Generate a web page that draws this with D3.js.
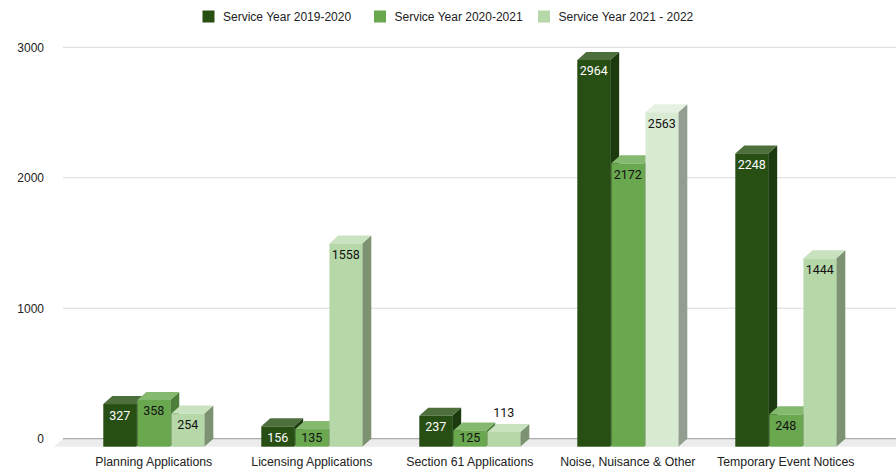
<!DOCTYPE html>
<html><head><meta charset="utf-8">
<script src="https://cdn.jsdelivr.net/npm/d3@7/dist/d3.min.js"></script>
<style>html,body{margin:0;padding:0;background:#fff;}svg{display:block;}</style>
</head><body><svg id="c" width="896" height="473"></svg>
<script>
const categories = ["Planning Applications","Licensing Applications","Section 61 Applications","Noise, Nuisance & Other","Temporary Event Notices"];
const seriesNames = ["Service Year 2019-2020","Service Year 2020-2021","Service Year 2021 - 2022"];
const values2019 = [327,156,237,2964,2248];
const values2020 = [358,135,125,2172,248];
const values2021 = [254,1558,113,2563,1444];
const yTicks = [0,1000,2000,3000];
const highlighted = {series: 2, category: "Noise, Nuisance & Other"};

const seriesValues = [values2019, values2020, values2021];
const palette = [
  {front:"#274e13", top:"#4c6f3c", side:"#1b3a0d", text:"#ffffff"},
  {front:"#6aa84f", top:"#86b970", side:"#4d7e39", text:"#111111"},
  {front:"#b6d7a8", top:"#c9e2bf", side:"#7c9270", text:"#111111"}
];
const paletteHi = {front:"#d9ead3", top:"#e6f1e2", side:"#949e90", text:"#111111"};

const svg = d3.select("#c");
const DX = 9, DY = 8;
const y = d3.scaleLinear().domain([0,3000]).range([446.7, 55.3]);
const x0 = d3.scaleBand().domain(categories).range([74.8, 864.8]);
const groupW = 101;
const x1 = d3.scaleBand().domain(d3.range(3)).range([0, groupW]).paddingInner(0.035);

// gridlines (back plane)
const grid = svg.append("g");
yTicks.forEach(t => {
  if (t === 0) return;
  grid.append("line").attr("x1",63).attr("x2",896).attr("y1",y(t)-DY).attr("y2",y(t)-DY)
    .attr("stroke","#d9d9d9").attr("stroke-width",1);
});
// floor
const y0b = y(0)-DY, y0f = y(0);
svg.append("path").attr("d",`M63,${y0b} L905,${y0b} L896,${y0f} L54,${y0f} Z`).attr("fill","#ececec");
svg.append("line").attr("x1",63).attr("x2",896).attr("y1",y0b).attr("y2",y0b).attr("stroke","#9a9a9a").attr("stroke-width",1);

// y labels
svg.append("g").selectAll("text").data(yTicks).join("text")
  .attr("x",44).attr("y",d=>y(d)-DY+4.5).attr("text-anchor","end")
  .attr("font-family","'Liberation Sans', Arial, sans-serif").attr("font-size",12).attr("fill","#222")
  .text(d=>d);

// bars
const bars = svg.append("g");
categories.forEach((cat, ci) => {
  const gx = x0(cat) + (x0.bandwidth()-groupW)/2;
  seriesValues.forEach((vals, si) => {
    const v = vals[ci];
    const c = (si===highlighted.series && cat===highlighted.category) ? paletteHi : palette[si];
    const xl = gx + x1(si), xr = xl + x1.bandwidth();
    const yt = y(v), yb = y(0);
    const g = bars.append("g");
    g.append("path").attr("d",`M${xr},${yt} L${xr+DX},${yt-DY} L${xr+DX},${yb-DY} L${xr},${yb} Z`).attr("fill",c.side);
    g.append("path").attr("d",`M${xl},${yt} L${xl+DX},${yt-DY} L${xr+DX},${yt-DY} L${xr},${yt} Z`).attr("fill",c.top);
    g.append("rect").attr("x",xl).attr("y",yt).attr("width",xr-xl).attr("height",yb-yt).attr("fill",c.front);
    const h = yb - yt;
    const inside = h >= 15.5;
    g.append("text").attr("x",(xl+xr)/2)
      .attr("y", inside ? Math.min(yt+15.5, yb-5) : yt-DY-7)
      .attr("text-anchor","middle")
      .attr("font-family","Roboto, sans-serif").attr("font-size",12.5)
      .attr("fill", inside ? c.text : "#111")
      .text(v);
  });
});

// x labels
svg.append("g").selectAll("text").data(categories).join("text")
  .attr("x",d=>x0(d)+x0.bandwidth()/2).attr("y",466).attr("text-anchor","middle")
  .attr("font-family","'Liberation Sans', Arial, sans-serif").attr("font-size",12.3).attr("fill","#222")
  .text(d=>d);

// legend
const legendX = [202.5, 374, 538];
const lg = svg.append("g");
seriesNames.forEach((s,i)=>{
  lg.append("rect").attr("x",legendX[i]).attr("y",10.5).attr("width",12).attr("height",12).attr("fill",palette[i].front);
  lg.append("text").attr("x",legendX[i]+20.5).attr("y",20.5)
    .attr("font-family","'Liberation Sans', Arial, sans-serif").attr("font-size",12).attr("fill","#222").text(s);
});
</script></body></html>
